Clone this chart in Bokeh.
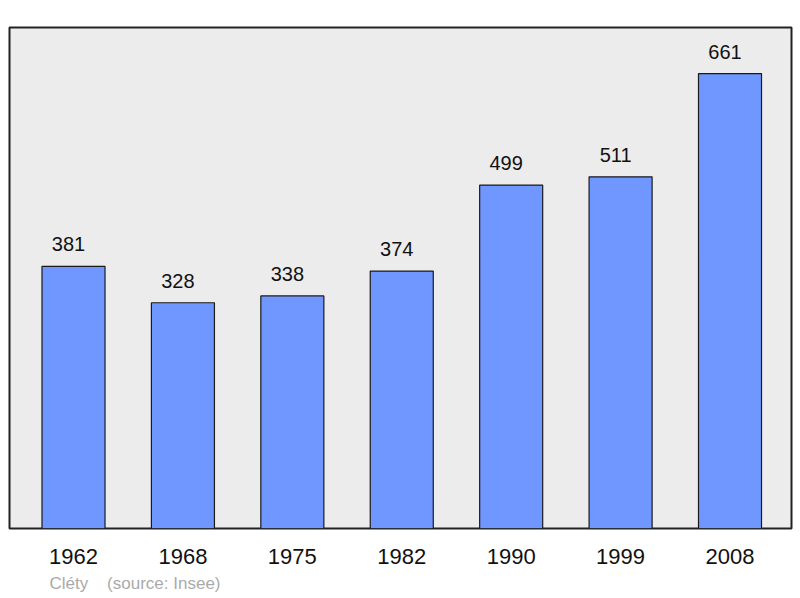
from bokeh.plotting import figure
from bokeh.models import ColumnDataSource, Range1d, FixedTicker, Title
from bokeh.embed import file_html
from bokeh.resources import INLINE

years = ["1962", "1968", "1975", "1982", "1990", "1999", "2008"]
population = [381, 328, 338, 374, 499, 511, 661]
commune = "Cléty"
source_note = "(source: Insee)"

idx = list(range(len(years)))
src = ColumnDataSource(dict(x=idx, top=population, label=[str(v) for v in population]))

p = figure(width=800, height=598, output_backend="svg", toolbar_location=None,
           x_range=Range1d(-0.585, 6.562), y_range=Range1d(0, 728),
           min_border_left=9, min_border_right=9, min_border_top=27, min_border_bottom=70)

p.background_fill_color = "#ececec"
p.border_fill_color = "white"
p.outline_line_color = "#222222"
p.outline_line_width = 2
p.grid.visible = False

p.vbar(x="x", top="top", width=0.576, bottom=0, source=src,
       fill_color="#7096ff", line_color="#1a1a1a", line_width=1.2)

p.text(x="x", y="top", text="label", source=src, text_align="center",
       text_baseline="alphabetic", x_offset=-5, y_offset=-22, text_font_size="20px",
       text_color="#111111", text_font={"value": "Liberation Sans"})

p.yaxis.visible = False
xa = p.xaxis[0]
xa.ticker = FixedTicker(ticks=idx)
xa.major_label_overrides = {i: y for i, y in zip(idx, years)}
xa.axis_line_color = None
xa.major_tick_line_color = None
xa.minor_tick_line_color = None
xa.major_label_text_font_size = "22px"
xa.major_label_text_font = "Liberation Sans"
xa.major_label_text_color = "#111111"
xa.major_label_standoff = 14

footer = Title(text=commune + "\u00a0" * 4 + source_note, align="left", offset=40,
               text_font_size="17px", text_font="Liberation Sans",
               text_font_style="normal", text_color="#aaaaaa", standoff=11)
p.add_layout(footer, "below")

open("out.html", "w").write(file_html(p, INLINE))
